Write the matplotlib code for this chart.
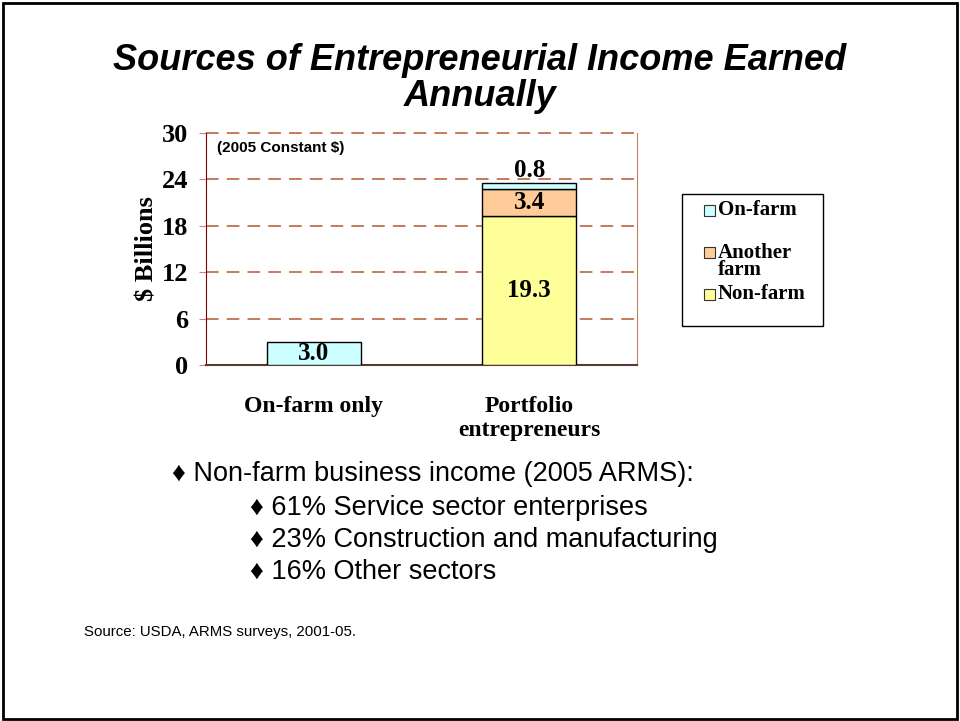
import matplotlib
matplotlib.use("Agg")
import matplotlib.pyplot as plt
from matplotlib.patches import Rectangle

# data
categories = ["On-farm only", "Portfolio\nentrepreneurs"]
non_farm = [0.0, 19.3]
another_farm = [0.0, 3.4]
on_farm = [3.0, 0.8]
colors = {"On-farm": "#CCFFFF", "Another farm": "#FFCC99", "Non-farm": "#FFFF99"}
yticks = [0, 6, 12, 18, 24, 30]
bullets = ["61% Service sector enterprises", "23% Construction and manufacturing",
           "16% Other sectors"]

W, H = 960, 721
fig = plt.figure(figsize=(W / 100, H / 100), dpi=100)

serif = "Liberation Serif"
sans = ["Liberation Sans", "DejaVu Sans"]

# slide frame
fig.patches.append(Rectangle((3 / W, 2 / H), 954 / W, 716 / H, transform=fig.transFigure,
                             fill=False, edgecolor="black", linewidth=2))

# title
fig.text(0.5, 1 - 60 / H, "Sources of Entrepreneurial Income Earned", ha="center", va="center",
         fontsize=26, fontweight="bold", fontstyle="italic", family=sans)
fig.text(0.5, 1 - 97 / H, "Annually", ha="center", va="center",
         fontsize=26, fontweight="bold", fontstyle="italic", family=sans)

ax = fig.add_axes([206 / W, 1 - 365 / H, 431 / W, 232 / H])
x = [0, 1]
width = 0.436
ax.bar(x, non_farm, width, color=colors["Non-farm"], edgecolor="black", linewidth=1, zorder=3)
ax.bar(x, another_farm, width, bottom=non_farm, color=colors["Another farm"], edgecolor="black",
       linewidth=1, zorder=3)
bottoms = [a + b for a, b in zip(non_farm, another_farm)]
ax.bar(x, on_farm, width, bottom=bottoms, color=colors["On-farm"], edgecolor="black",
       linewidth=1, zorder=3)

lab = dict(ha="center", va="center", fontsize=18, fontweight="bold", family=serif, zorder=4)
ax.text(0, on_farm[0] / 2, f"{on_farm[0]:.1f}", **lab)
ax.text(1, non_farm[1] / 2, f"{non_farm[1]:.1f}", **lab)
ax.text(1, non_farm[1] + another_farm[1] / 2, f"{another_farm[1]:.1f}", **lab)
ax.text(1, bottoms[1] + on_farm[1] + 1.7, f"{on_farm[1]:.1f}", **lab)

ax.set_xlim(-0.5, 1.5)
ax.set_ylim(0, 30)
ax.set_yticks(yticks)
ax.set_yticklabels([str(t) for t in yticks], fontsize=19, fontweight="bold", family=serif)
ax.set_xticks(x)
ax.set_xticklabels(categories, fontsize=17, fontweight="bold", family=serif, linespacing=1.2)
ax.tick_params(axis="x", length=0, pad=22)
ax.tick_params(axis="y", length=5, color="#D08080", pad=8)
for t in yticks[1:]:
    ax.axhline(t, color="#C0704F", linestyle=(0, (7, 4.5)), linewidth=1.3, zorder=1, clip_on=False)
ax.spines["top"].set_visible(False)
ax.spines["left"].set_color("#800000")
ax.spines["bottom"].set_color("#5A3A30")
ax.spines["right"].set_color("#C08060")
ax.spines["bottom"].set_linewidth(1.5)
ax.set_ylabel("$ Billions", fontsize=19, fontweight="bold", family=serif, labelpad=2)
ax.text(0.025, 0.935, "(2005 Constant $)", transform=ax.transAxes, fontsize=11,
        fontweight="bold", family=sans, va="center")

# legend box
fig.patches.append(Rectangle((682 / W, 1 - 326 / H), 141 / W, 132 / H, transform=fig.transFigure,
                             fill=True, facecolor="white", edgecolor="black", linewidth=1))
legend_rows = [("On-farm", "On-farm", 210, 210), ("Another farm", "Another\nfarm", 261, 252),
               ("Non-farm", "Non-farm", 294, 294)]
for key, text, ypx, sy in legend_rows:
    fig.patches.append(Rectangle((704 / W, 1 - (sy + 5.5) / H), 11 / W, 11 / H,
                                 transform=fig.transFigure, facecolor=colors[key],
                                 edgecolor="#333333", linewidth=0.8))
    fig.text(718 / W, 1 - ypx / H, text, ha="left", va="center", fontsize=15,
             fontweight="bold", family=serif, linespacing=0.8)

# bullets
fig.text(172 / W, 1 - 474 / H, "\u2666 Non-farm business income (2005 ARMS):", fontsize=19.5,
         family=sans, va="center")
for i, s in enumerate(bullets):
    fig.text(250 / W, 1 - (508 + 32 * i) / H, "\u2666 " + s, fontsize=19.5, family=sans,
             va="center")

fig.text(84 / W, 1 - 632 / H, "Source: USDA, ARMS surveys, 2001-05.", fontsize=10.8,
         family=sans, va="center")

fig.savefig("out.png", dpi=100)
